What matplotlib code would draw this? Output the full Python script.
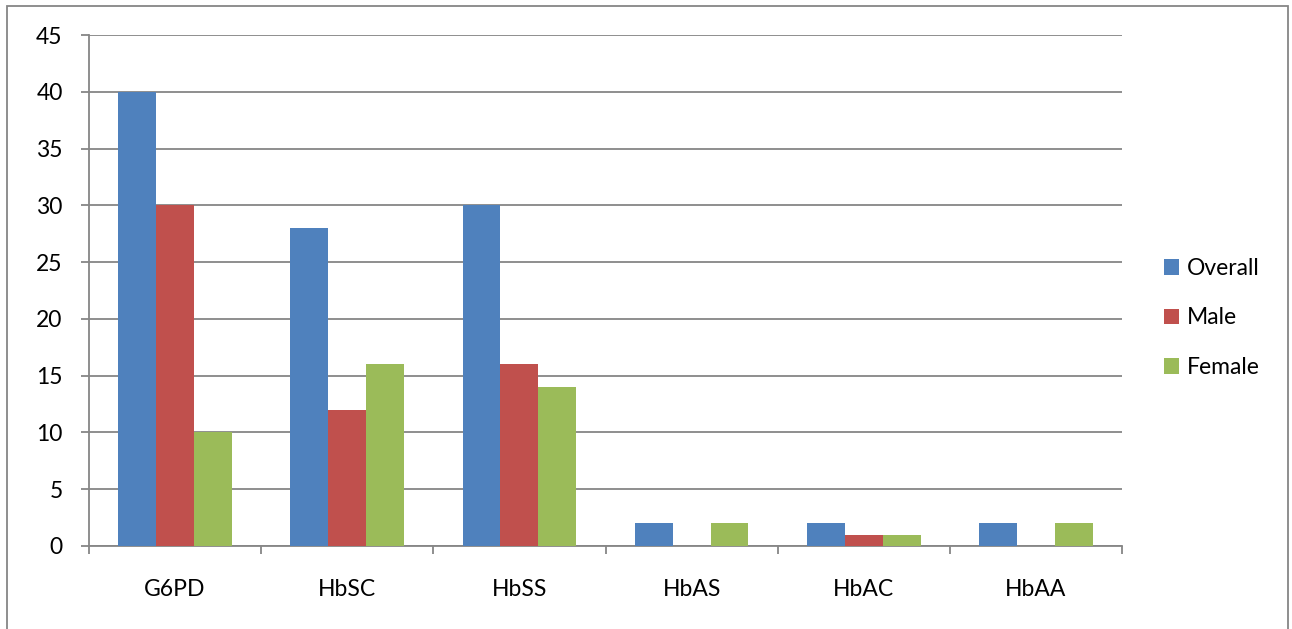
import matplotlib
matplotlib.use("Agg")
import matplotlib.pyplot as plt
import numpy as np
from matplotlib.patches import Rectangle

categories = ["G6PD", "HbSC", "HbSS", "HbAS", "HbAC", "HbAA"]
overall = [40, 28, 30, 2, 2, 2]
male = [30, 12, 16, 0, 1, 0]
female = [10, 16, 14, 2, 1, 2]
series_names = ["Overall", "Male", "Female"]
colors = ["#4F81BD", "#C0504D", "#9BBB59"]

plt.rcParams['font.family'] = ['Lato', 'DejaVu Sans']
FS = 16.5

fig = plt.figure(figsize=(12.92, 6.29), dpi=100)
ax = fig.add_axes([89/1292, 1-546/629, (1122-89)/1292, (546-35)/629])

x = np.arange(len(categories))
w = 0.22
for i, (vals, name, c) in enumerate(zip([overall, male, female], series_names, colors)):
    ax.bar(x + (i-1)*w, vals, width=w, color=c, label=name, zorder=3)

ax.set_xlim(-0.5, len(categories)-0.5)
ax.set_ylim(0, 45)
ax.set_yticks(np.arange(0, 46, 5))
ax.yaxis.grid(True, color="#868686", linewidth=1.3, zorder=0)
ax.set_axisbelow(True)

ax.set_xticks(np.arange(-0.5, len(categories), 1.0))
ax.set_xticklabels([])
ax.set_xticks(x, minor=True)
ax.set_xticklabels(categories, minor=True)
ax.tick_params(axis='x', which='major', length=6, width=1.3, color="#868686", direction='out')
ax.tick_params(axis='x', which='minor', length=0, pad=24, labelsize=FS)
ax.tick_params(axis='y', length=6, width=1.3, color="#868686", pad=13, labelsize=FS)

for s in ["top", "right"]:
    ax.spines[s].set_visible(False)
for s in ["left", "bottom"]:
    ax.spines[s].set_color("#868686")
    ax.spines[s].set_linewidth(1.3)

leg = fig.legend(loc="center left", bbox_to_anchor=(1143/1292, 1-318/629), frameon=False,
                 fontsize=FS, handlelength=0.66, handleheight=0.66, handletextpad=0.35,
                 labelspacing=1.25)

fig.patches.append(Rectangle((7/1292, -0.1), (1288-7)/1292, 1.1 - 6/629,
                             transform=fig.transFigure, fill=False, edgecolor="#868686",
                             linewidth=1.3))

fig.savefig("out.png", dpi=100)
